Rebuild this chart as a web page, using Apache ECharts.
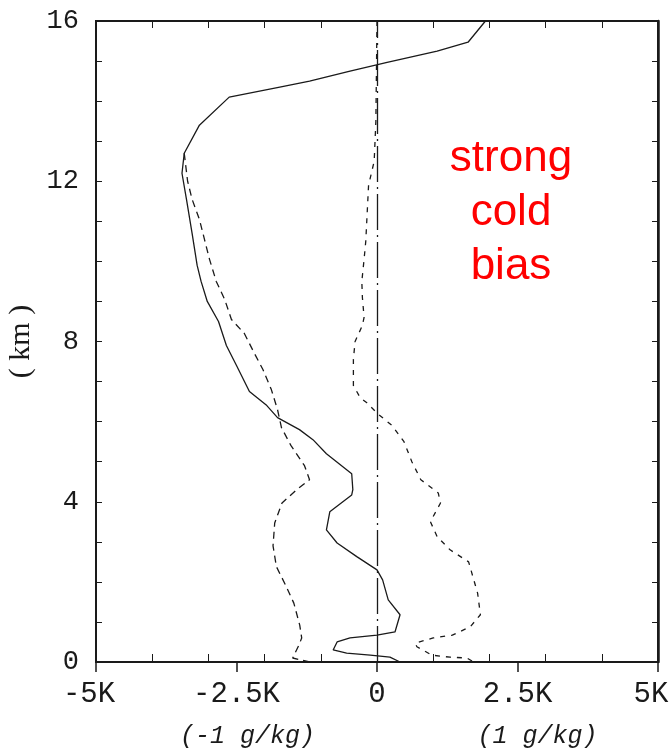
<!DOCTYPE html>
<html>
<head>
<meta charset="utf-8">
<script src="https://cdn.jsdelivr.net/npm/echarts@6/dist/echarts.min.js"></script>
<style>
html,body{margin:0;padding:0;background:#fff;overflow:hidden;width:672px;height:753px;}
#chart{position:absolute;left:0;top:0;width:672px;height:753px;}
</style>
</head>
<body>
<div id="chart"></div>
<script>
// ---- data (height in km, bias in K) ----
const heightsA = [16, 15.47, 15.25, 14.97, 14.75, 14.5, 14.35, 14.1, 13.4, 12.7, 12.2, 11.55, 10.7, 9.9, 9.5, 9.0, 8.5, 7.9, 7.4, 6.75, 6.4, 6.1, 5.8, 5.55, 5.2, 4.7, 4.3, 4.17, 3.75, 3.3, 2.97, 2.63, 2.3, 2.05, 1.55, 1.18, 0.75, 0.67, 0.6, 0.5, 0.3, 0.22, 0.17, 0.12, 0.0];
const biasA    = [1.93, 1.62, 1.07, 0.18, -0.48, -1.2, -1.73, -2.63, -3.16, -3.43, -3.47, -3.39, -3.29, -3.2, -3.13, -3.02, -2.82, -2.68, -2.5, -2.27, -1.96, -1.77, -1.38, -1.14, -0.9, -0.45, -0.43, -0.45, -0.84, -0.9, -0.71, -0.36, 0.0, 0.1, 0.2, 0.41, 0.32, 0.0, -0.48, -0.71, -0.78, -0.54, -0.12, 0.23, 0.41];

const heightsB = [12.7, 12.0, 11.55, 11.05, 10.55, 10.05, 9.5, 9.05, 8.55, 8.2, 7.7, 7.3, 6.8, 6.3, 5.85, 5.4, 4.9, 4.55, 4.3, 3.97, 3.47, 2.9, 2.38, 1.9, 1.47, 0.92, 0.6, 0.42, 0.1, 0.0];
const biasB    = [-3.43, -3.37, -3.29, -3.16, -3.07, -2.98, -2.86, -2.71, -2.59, -2.36, -2.18, -2.03, -1.88, -1.77, -1.70, -1.53, -1.29, -1.2, -1.43, -1.69, -1.82, -1.85, -1.79, -1.62, -1.48, -1.375, -1.34, -1.39, -1.5, -1.2];

const heightsC = [16, 13.5, 12.5, 11.9, 10.5, 10.05, 9.5, 9.1, 8.6, 8.4, 8.0, 7.55, 6.9, 6.6, 6.47, 6.2, 5.9, 5.5, 5.0, 4.55, 4.22, 3.97, 3.5, 3.13, 2.8, 2.5, 1.72, 1.18, 0.88, 0.67, 0.6, 0.47, 0.38, 0.17, 0.12, 0.1, 0.0];
const biasC    = [0.0, -0.02, -0.05, -0.15, -0.2, -0.23, -0.27, -0.26, -0.23, -0.26, -0.39, -0.42, -0.42, -0.3, -0.18, 0.01, 0.27, 0.48, 0.62, 0.78, 1.09, 1.13, 0.95, 1.07, 1.3, 1.63, 1.79, 1.84, 1.66, 1.34, 1.0, 0.68, 0.71, 0.98, 1.3, 1.6, 1.72];

const xTickValues = [-5, -2.5, 0, 2.5, 5];
const xTickLabels = ['-5K', '-2.5K', '0', '2.5K', '5K'];
const xSubLabels  = {'-2.5': '(-1 g/kg)', '2.5': '(1 g/kg)'};
const yTickLabels = ['0', '4', '8', '12', '16'];
const annotation = 'strong\ncold\nbias';
const yName = '( km )';
const xMin = -5, xMax = 5;

function pairs(xs, hs) { return hs.map((h, i) => [xs[i], h]); }

const mono = '"Liberation Mono", "DejaVu Sans Mono", monospace';
const ink = '#1a1a1a';

const chart = echarts.init(document.getElementById('chart'), null, {renderer: 'canvas', width: 672, height: 753});
chart.setOption({
  backgroundColor: '#fff',
  animation: false,
  grid: {left: 96, right: 14, top: 21, bottom: 91, containLabel: false, outerBoundsMode: 'none',
         show: true, borderColor: ink, borderWidth: 2, backgroundColor: 'transparent'},
  xAxis: [
    {
      type: 'value', position: 'bottom', min: xMin, max: xMax, interval: 2.5,
      axisLine: {show: true, onZero: false, lineStyle: {color: ink, width: 2}},
      axisTick: {show: true, inside: false, length: 10, lineStyle: {color: ink, width: 1.5}},
      splitLine: {show: false},
      axisLabel: {
        margin: 14, showMaxLabel: true, showMinLabel: true, hideOverlap: false,
        formatter: function (v) {
          const i = xTickValues.indexOf(v);
          const main = i >= 0 ? xTickLabels[i] : '';
          if (v === -2.5) return '{a|' + main + '}\n{s1|' + xSubLabels['-2.5'] + '}';
          if (v === 2.5) return '{a|' + main + '}\n{s2|' + xSubLabels['2.5'] + '}';
          if (v === xMin || v === xMax) return '{e|' + main + '}';
          return '{a|' + main + '}';
        },
        rich: {
          a: {fontFamily: mono, fontSize: 29, color: ink, lineHeight: 36},
          e: {fontFamily: mono, fontSize: 29, color: ink, lineHeight: 36, padding: [0, 14, 0, 0]},
          s1: {fontFamily: mono, fontSize: 25, fontStyle: 'italic', color: ink, lineHeight: 48, padding: [0, 0, 0, 22]},
          s2: {fontFamily: mono, fontSize: 25, fontStyle: 'italic', color: ink, lineHeight: 48, padding: [0, 0, 0, 40]}
        }
      }
    },
    {
      type: 'value', position: 'bottom', min: xMin, max: xMax, interval: 1,
      axisLine: {show: false, onZero: false},
      axisTick: {show: true, inside: true, length: 8, lineStyle: {color: ink, width: 1}},
      axisLabel: {show: false}, splitLine: {show: false}
    },
    {
      type: 'value', position: 'top', min: xMin, max: xMax, interval: 1,
      axisLine: {show: true, onZero: false, lineStyle: {color: ink, width: 2}},
      axisTick: {show: true, inside: true, length: 7, lineStyle: {color: ink, width: 1}},
      axisLabel: {show: false}, splitLine: {show: false}
    }
  ],
  yAxis: [
    {
      type: 'value', position: 'left', min: 0, max: 16, interval: 4,
      name: yName, nameLocation: 'middle', nameRotate: 90, nameGap: 48,
      nameTextStyle: {fontFamily: '"Liberation Serif", "DejaVu Serif", serif', fontSize: 30, color: ink},
      axisLine: {show: true, onZero: false, lineStyle: {color: ink, width: 2}},
      axisTick: {show: true, inside: true, length: 6, lineStyle: {color: ink, width: 1}},
      minorTick: {show: true, splitNumber: 4, length: 6, lineStyle: {color: ink, width: 1}},
      splitLine: {show: false},
      axisLabel: {
        margin: 17, fontFamily: mono, fontSize: 27, color: ink,
        formatter: function (v) { return yTickLabels[v / 4] || ''; }
      }
    },
    {
      type: 'value', position: 'right', min: 0, max: 16, interval: 1,
      axisLine: {show: true, onZero: false, lineStyle: {color: ink, width: 2.5}},
      axisTick: {show: true, inside: true, length: 6, lineStyle: {color: ink, width: 1}},
      axisLabel: {show: false}, splitLine: {show: false}
    }
  ],
  series: [
    {
      type: 'line', xAxisIndex: 0, yAxisIndex: 0, data: pairs(biasA, heightsA),
      showSymbol: false, smooth: false,
      lineStyle: {color: ink, width: 1.3, type: 'solid'},
      markLine: {
        silent: true, symbol: 'none', label: {show: false},
        lineStyle: {color: ink, width: 1.3, type: [36, 5, 2, 5]},
        data: [
          {xAxis: 0},
          {xAxis: xMax, lineStyle: {color: ink, width: 2, type: 'solid'}}
        ]
      }
    },
    {
      type: 'line', xAxisIndex: 0, yAxisIndex: 0, data: pairs(biasB, heightsB),
      showSymbol: false, smooth: false,
      lineStyle: {color: ink, width: 1.3, type: [7, 5]}
    },
    {
      type: 'line', xAxisIndex: 0, yAxisIndex: 0, data: pairs(biasC, heightsC),
      showSymbol: false, smooth: false,
      lineStyle: {color: ink, width: 1.3, type: [5, 6]}
    }
  ],
  graphic: [
    {
      type: 'text', x: 511, y: 213,
      style: {
        text: annotation, fill: '#ff0000',
        font: '44px "Liberation Sans", Arial, sans-serif',
        lineHeight: 54, align: 'center', verticalAlign: 'middle'
      }
    }
  ]
});
</script>
</body>
</html>
